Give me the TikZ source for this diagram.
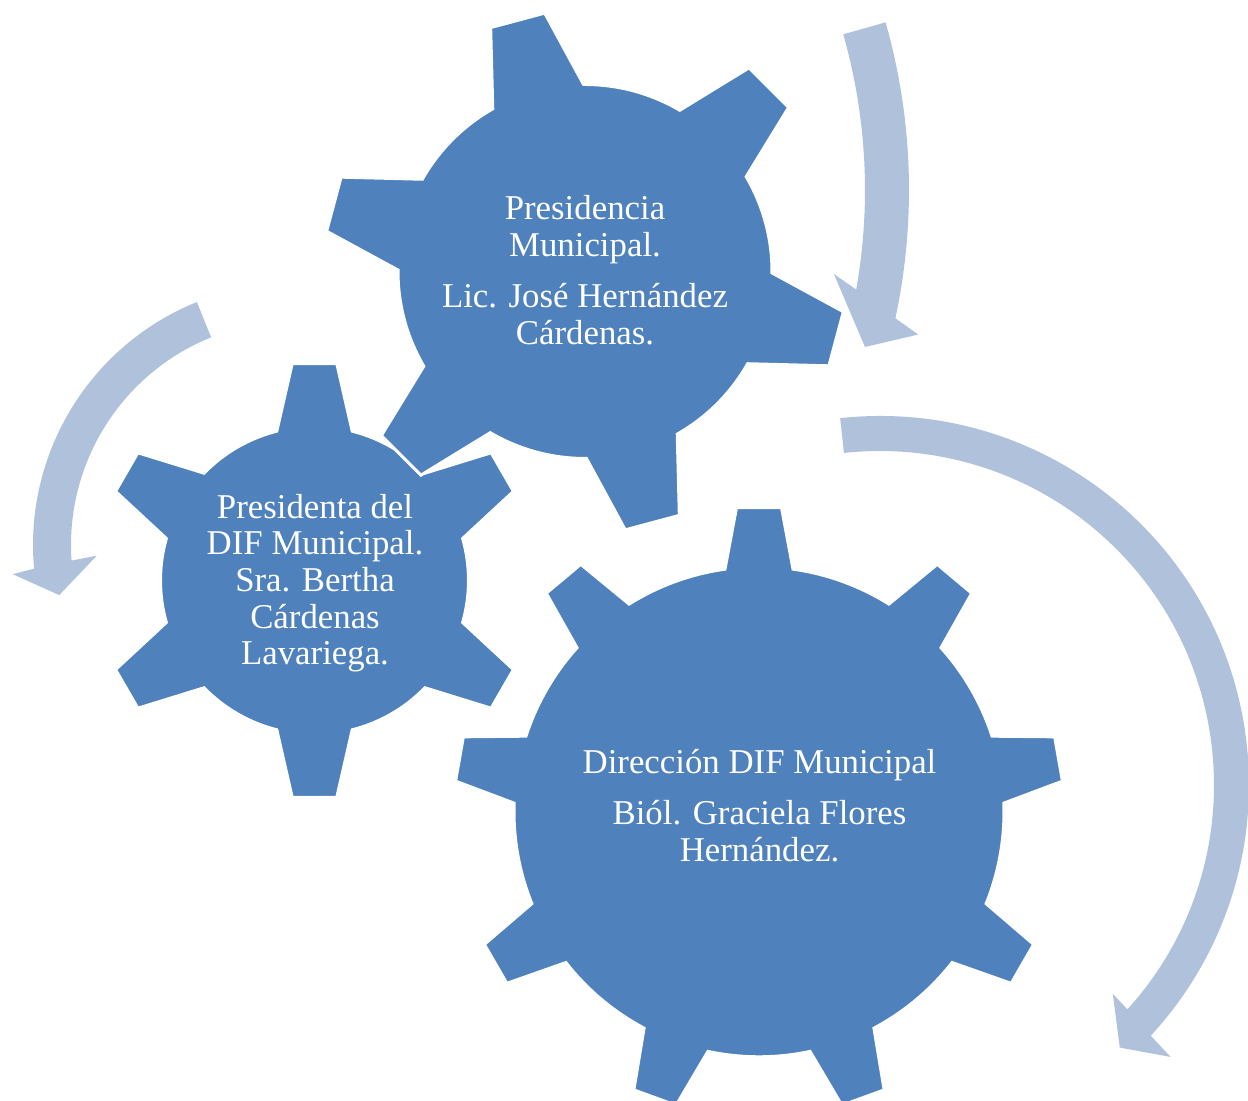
\documentclass[tikz,border=0pt]{standalone}
\usepackage{fontspec}
\setmainfont{Liberation Serif}
\definecolor{gearblue}{RGB}{79,129,189}
\definecolor{arrowblue}{RGB}{176,193,220}
\tikzset{
  gearfill/.style={fill=gearblue, draw=white, line width=1.5pt, line join=miter},
  arrowfill/.style={fill=arrowblue},
  lbl/.style={text=white, font=\fontsize{17.4pt}{18.5pt}\selectfont, anchor=base, inner sep=0pt}
}
\newcommand{\drawgear}[8]{%
  \pgfmathsetmacro{\gA}{asin(#7/#5)}%
  \pgfmathsetmacro{\gB}{asin(#8/#6)}%
  \pgfmathsetmacro{\gS}{360/#3}%
  \pgfmathsetmacro{\gZ}{#4-\gA}%
  \begin{scope}[shift={(#1,#2)}]
  \path[gearfill] (\gZ:#5)
    \foreach \k [evaluate=\k as \tA using #4+(\k-1)*\gS-\gB,
                 evaluate=\k as \tB using #4+(\k-1)*\gS+\gB,
                 evaluate=\k as \tC using #4+(\k-1)*\gS+\gA,
                 evaluate=\k as \tD using #4+\k*\gS-\gA] in {1,...,#3}{
      -- (\tA:#6) -- (\tB:#6) -- (\tC:#5)
      arc[start angle=\tC, end angle=\tD, radius=#5]
    } -- cycle;
  \end{scope}%
}
\begin{document}
\begin{tikzpicture}[x=0.5pt,y=0.5pt]
\path[use as bounding box, fill=white] (0,0) rectangle (1248,1101);
% arrows
\begin{scope}[shift={(297,911)}]
\fill[arrowfill] (15.9:612) arc[start angle=15.9, end angle=-12.1, radius=612]
  -- (-13.1:637.8) -- (-15.45:589.3) -- (-8.9:543.5) -- (-10.1:568)
  arc[start angle=-10.1, end angle=15.9, radius=568] -- cycle;
\end{scope}
\begin{scope}[shift={(295,556)}]
\fill[arrowfill] (112:262) arc[start angle=112, end angle=185.2, radius=262]
  -- (185.9:283.8) -- (192:241) -- (183.1:198.6) -- (184:224)
  arc[start angle=184, end angle=112, radius=224] -- cycle;
\end{scope}
\begin{scope}[shift={(880,316)}]
\fill[arrowfill] (96.2:369) arc[start angle=96.2, end angle=-42.8, radius=369]
  -- (-43.1:398) -- (-47.6:355.6) -- (-41.9:312.8) -- (-42.2:334)
  arc[start angle=-42.2, end angle=96.2, radius=334] -- cycle;
\end{scope}
% gears
\drawgear{759}{289.2}{9}{90}{245}{305}{34}{22.5}
\drawgear{314.5}{520.5}{6}{90}{154}{218}{37.7}{22.3}
\drawgear{585}{829.5}{6}{-15}{187}{261.5}{47}{28}
% texts
\node[lbl] (t1a) at (585,881.3) {Presidencia};
\node[lbl] (t1b) at (585,844.1) {Municipal.};
\node[lbl] (t1c) at (585,793) {Lic. José Hernández};
\node[lbl] (t1d) at (585,756.2) {Cárdenas.};
\node[lbl] (t2a) at (315,582.7) {Presidenta del};
\node[lbl] (t2b) at (315,546) {DIF Municipal.};
\node[lbl] (t2c) at (315,509.3) {Sra. Bertha};
\node[lbl] (t2d) at (315,472.7) {Cárdenas};
\node[lbl] (t2e) at (315,436) {Lavariega.};
\node[lbl] (t3a) at (759.5,327) {Dirección DIF Municipal};
\node[lbl] (t3b) at (759.5,276.2) {Biól. Graciela Flores};
\node[lbl] (t3c) at (759.5,239.1) {Hernández.};
\end{tikzpicture}
\end{document}
